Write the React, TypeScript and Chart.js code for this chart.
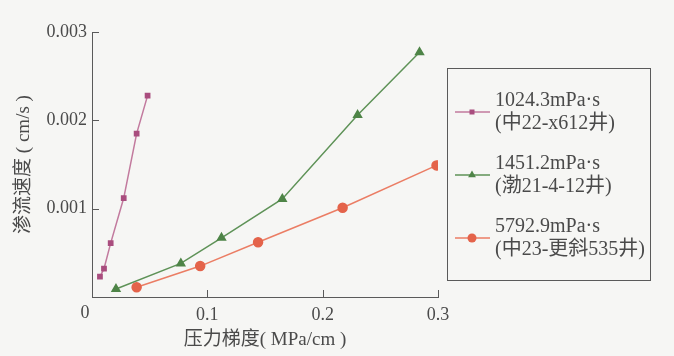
import React, { useEffect, useRef } from "react";
import { Chart, registerables } from "chart.js";

Chart.register(...registerables);

const seriesLabels = ["1024.3mPa·s", "1451.2mPa·s", "5792.9mPa·s"];
const seriesWells = ["(中22-x612井)", "(渤21-4-12井)", "(中23-更斜535井)"];

const pinkX = [0.0069, 0.0104, 0.0162, 0.0275, 0.0387, 0.0482];
const pinkY = [0.00023, 0.00032, 0.00061, 0.00112, 0.00185, 0.00228];

const greenX = [0.0208, 0.077, 0.1123, 0.165, 0.2303, 0.284];
const greenY = [0.00009, 0.00038, 0.00067, 0.00111, 0.00206, 0.00277];

const orangeX = [0.0387, 0.0938, 0.144, 0.2173, 0.2987];
const orangeY = [0.00011, 0.00035, 0.00062, 0.00101, 0.00149];

const xTicks = [0, 0.1, 0.2, 0.3];
const yTicks = [0.001, 0.002, 0.003];

const xTitle = "压力梯度( MPa/cm )";
const yTitle = "渗流速度 ( cm/s )";

const SERIF = "'Liberation Serif', 'Times New Roman', 'Noto Sans CJK SC', serif";
const TEXT = "#4a4a4a";
const AXIS = "#5a5a5a";
const TICK_SIZE = 18;

const colors = [
  { line: "#c27a9e", point: "#a94d7e" },
  { line: "#5e9257", point: "#4e8447" },
  { line: "#eb7d64", point: "#e4634a" },
];
const pointStyles = ["rect", "triangle", "circle"];
const pointRadii = [3, 4.5, 4.5];

const toPts = (xs: number[], ys: number[]) => xs.map((x, i) => ({ x, y: ys[i] }));

const innerTicks = {
  id: "innerTicks",
  afterDatasetsDraw(chart: any) {
    const { ctx, chartArea, scales } = chart;
    ctx.save();
    ctx.strokeStyle = AXIS;
    ctx.lineWidth = 1;
    ctx.beginPath();
    xTicks.forEach((v) => {
      if (v === 0) return;
      const px = Math.round(scales.x.getPixelForValue(v)) + 0.5;
      ctx.moveTo(px, chartArea.bottom);
      ctx.lineTo(px, chartArea.bottom - 7);
    });
    yTicks.forEach((v) => {
      const py = Math.round(scales.y.getPixelForValue(v)) + 0.5;
      ctx.moveTo(chartArea.left, py);
      ctx.lineTo(chartArea.left + 7, py);
    });
    ctx.stroke();
    // origin label, set slightly left of the axis corner
    ctx.fillStyle = TEXT;
    ctx.font = `${TICK_SIZE}px ${SERIF}`;
    ctx.textAlign = "center";
    ctx.textBaseline = "middle";
    ctx.fillText(String(xTicks[0]), scales.x.getPixelForValue(0) - 7, chartArea.bottom + 16);
    ctx.restore();
  },
};

const boxLegend = {
  id: "boxLegend",
  afterDraw(chart: any) {
    const { ctx } = chart;
    ctx.save();
    ctx.strokeStyle = AXIS;
    ctx.lineWidth = 1;
    ctx.strokeRect(447.5, 68.5, 203, 212);
    chart.data.datasets.forEach((ds: any, i: number) => {
      const mid = 112 + i * 63;
      ctx.strokeStyle = colors[i].line;
      ctx.lineWidth = 1.5;
      ctx.beginPath();
      ctx.moveTo(455, mid);
      ctx.lineTo(490, mid);
      ctx.stroke();
      ctx.fillStyle = colors[i].point;
      const r = pointRadii[i];
      ctx.beginPath();
      if (pointStyles[i] === "rect") {
        ctx.rect(472 - 2.5, mid - 2.5, 5, 5);
      } else if (pointStyles[i] === "triangle") {
        ctx.moveTo(472, mid - r);
        ctx.lineTo(472 + r * 0.87, mid + r * 0.5);
        ctx.lineTo(472 - r * 0.87, mid + r * 0.5);
        ctx.closePath();
      } else {
        ctx.arc(472, mid, r, 0, Math.PI * 2);
      }
      ctx.fill();
      ctx.fillStyle = TEXT;
      ctx.font = `20px ${SERIF}`;
      ctx.textBaseline = "middle";
      ctx.textAlign = "left";
      ctx.fillText(ds.label, 495, mid - 11);
      ctx.fillText(seriesWells[i], 495, mid + 12);
    });
    ctx.restore();
  },
};

export default function App() {
  const ref = useRef<HTMLCanvasElement | null>(null);

  useEffect(() => {
    if (!ref.current) return;
    const allX = [pinkX, greenX, orangeX];
    const allY = [pinkY, greenY, orangeY];
    const chart = new Chart(ref.current, {
      type: "line",
      data: {
        datasets: seriesLabels.map((label, i) => ({
          label,
          data: toPts(allX[i], allY[i]),
          borderColor: colors[i].line,
          backgroundColor: colors[i].point,
          pointBackgroundColor: colors[i].point,
          pointBorderColor: colors[i].point,
          pointStyle: pointStyles[i] as any,
          pointRadius: pointRadii[i],
          borderWidth: 1.5,
          tension: 0,
          fill: false,
        })),
      },
      options: {
        responsive: false,
        animation: false,
        events: [],
        layout: { padding: { left: 0, top: 32, right: 236, bottom: 0 } },
        plugins: { legend: { display: false }, tooltip: { enabled: false } },
        scales: {
          x: {
            type: "linear",
            min: 0,
            max: 0.3,
            afterFit: (s: any) => { s.height = 59; },
            afterBuildTicks: (s: any) => { s.ticks = xTicks.map((v) => ({ value: v })); },
            ticks: {
              padding: 7,
              color: TEXT,
              font: { family: SERIF, size: TICK_SIZE },
              callback: (v: any) => (v === 0 ? "" : String(Number(v).toFixed(1))),
            },
            grid: { display: true, drawOnChartArea: false, drawTicks: false },
            border: { display: true, color: AXIS, width: 1 },
            title: {
              display: true,
              text: xTitle,
              color: TEXT,
              font: { family: SERIF, size: 19 },
              padding: { top: 0, bottom: 5 },
            },
          },
          y: {
            type: "linear",
            min: 0,
            max: 0.003,
            afterFit: (s: any) => { s.width = 92; },
            afterBuildTicks: (s: any) => { s.ticks = [0, ...yTicks].map((v) => ({ value: v })); },
            ticks: {
              padding: 5,
              color: TEXT,
              font: { family: SERIF, size: TICK_SIZE },
              callback: (v: any) => (v === 0 ? "" : Number(v).toFixed(3)),
            },
            grid: { display: true, drawOnChartArea: false, drawTicks: false },
            border: { display: true, color: AXIS, width: 1 },
            title: {
              display: true,
              text: yTitle,
              color: TEXT,
              font: { family: SERIF, size: 19 },
              padding: { top: 13, bottom: 0 },
            },
          },
        },
      },
      plugins: [innerTicks, boxLegend],
    });
    return () => chart.destroy();
  }, []);

  return (
    <div style={{ position: "fixed", left: 0, top: 0, width: 674, height: 356, background: "#f6f6f4" }}>
      <canvas ref={ref} width={674} height={356} style={{ display: "block" }} />
    </div>
  );
}
